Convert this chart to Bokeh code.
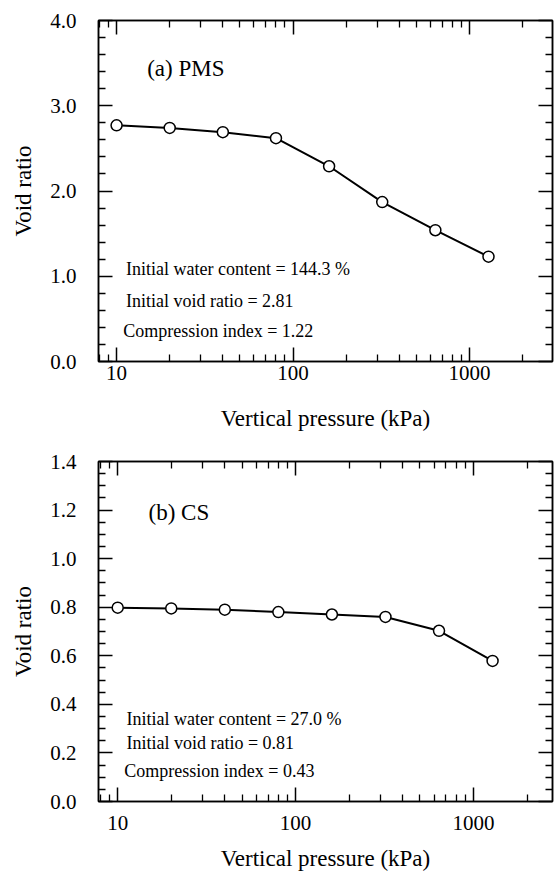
from bokeh.plotting import figure
from bokeh.models import FixedTicker, LogAxis, LinearAxis, NumeralTickFormatter, Label, Range1d
from bokeh.layouts import column
from bokeh.embed import file_html
from bokeh.resources import INLINE

# ---------------- data ----------------
pressure = [10, 20, 40, 80, 160, 320, 640, 1280]
void_pms = [2.77, 2.74, 2.69, 2.62, 2.29, 1.87, 1.54, 1.23]
void_cs = [0.798, 0.795, 0.790, 0.780, 0.770, 0.760, 0.703, 0.579]

x_major = [10, 100, 1000]
x_labels = ["10", "100", "1000"]
x_minor = [8, 9, 20, 30, 40, 50, 60, 70, 80, 90,
           200, 300, 400, 500, 600, 700, 800, 900, 2000]

y_major_pms = [0.0, 1.0, 2.0, 3.0, 4.0]
y_minor_pms = [0.2, 0.4, 0.6, 0.8, 1.2, 1.4, 1.6, 1.8, 2.2, 2.4, 2.6, 2.8,
               3.2, 3.4, 3.6, 3.8]
y_major_cs = [0.0, 0.2, 0.4, 0.6, 0.8, 1.0, 1.2, 1.4]
y_minor_cs = [0.05, 0.10, 0.15, 0.25, 0.30, 0.35, 0.45, 0.50, 0.55,
              0.65, 0.70, 0.75, 0.85, 0.90, 0.95, 1.05, 1.10, 1.15,
              1.25, 1.30, 1.35]

notes_pms = ["Initial water content = 144.3 %",
             "Initial void ratio = 2.81",
             "Compression index = 1.22"]
notes_cs = ["Initial water content = 27.0 %",
            "Initial void ratio = 0.81",
            "Compression index = 0.43"]

FONT = "Liberation Serif"


def make_panel(yvals, ymaj, ymin, xr, yr, width, height, bl, bt, bb,
               lab_standoff, axlab_standoff, title, title_pos, notes, note_pos):
    p = figure(width=width, height=height, x_axis_type="log",
               x_range=Range1d(*xr), y_range=Range1d(*yr),
               output_backend="svg", toolbar_location=None,
               min_border_left=bl, min_border_right=2,
               min_border_top=bt, min_border_bottom=bb)
    p.grid.visible = False
    p.outline_line_color = "black"
    p.outline_line_width = 1.5
    p.background_fill_color = "white"
    p.border_fill_color = "white"

    xt = FixedTicker(ticks=x_major, minor_ticks=x_minor)
    yt = FixedTicker(ticks=ymaj, minor_ticks=ymin)

    xa = p.xaxis[0]
    xa.ticker = xt
    xa.major_label_overrides = {float(v): s for v, s in zip(x_major, x_labels)}
    xa.axis_label = "Vertical pressure (kPa)"
    xa.major_label_standoff = lab_standoff
    xa.axis_label_standoff = axlab_standoff

    ya = p.yaxis[0]
    ya.ticker = yt
    ya.formatter = NumeralTickFormatter(format="0.0")
    ya.axis_label = "Void ratio"
    ya.major_label_standoff = 22
    ya.axis_label_standoff = 11

    top = LogAxis(ticker=xt)
    right = LinearAxis(ticker=yt)
    for ax in (top, right):
        ax.major_label_text_font_size = "1px"
        ax.major_label_text_alpha = 0
        ax.major_label_standoff = 0
    p.add_layout(top, "above")
    p.add_layout(right, "right")

    for ax in (xa, ya, top, right):
        ax.axis_line_width = 1.5
        ax.axis_line_color = "black"
        ax.major_tick_in = 14
        ax.major_tick_out = 0
        ax.minor_tick_in = 7
        ax.minor_tick_out = 0
        ax.major_tick_line_width = 1.5
        ax.minor_tick_line_width = 1.3
        ax.major_tick_line_color = "black"
        ax.minor_tick_line_color = "black"
        ax.axis_label_text_font = FONT
        ax.axis_label_text_font_style = "normal"
        ax.axis_label_text_font_size = "23px"
        ax.axis_label_text_color = "black"
        ax.major_label_text_font = FONT
        ax.major_label_text_color = "black"
    xa.major_label_text_font_size = "21px"
    ya.major_label_text_font_size = "21px"

    p.line(pressure, yvals, line_color="black", line_width=2)
    p.scatter(pressure, yvals, size=11, marker="circle", fill_color="white",
              line_color="black", line_width=1.5)

    p.add_layout(Label(x=title_pos[0], y=title_pos[1], text=title,
                       text_font=FONT, text_font_size="23px",
                       text_baseline="middle", text_color="black"))
    for t, (x, y) in zip(notes, note_pos):
        p.add_layout(Label(x=x, y=y, text=t, text_font=FONT,
                           text_font_size="18px", text_baseline="middle",
                           text_color="black"))
    return p


p1 = make_panel(void_pms, y_major_pms, y_minor_pms, (7.9, 2950), (0, 4.0),
                554, 433, 95, 20, 70, 4, 23, "(a) PMS", (14.9, 3.44),
                notes_pms, [(11.3, 1.085), (11.3, 0.71), (10.9, 0.36)])
p2 = make_panel(void_cs, y_major_cs, y_minor_cs, (7.8, 2780), (0, 1.4),
                554, 440, 98, 28, 68, 14, 13, "(b) CS", (14.9, 1.192),
                notes_cs, [(11.2, 0.341), (11.2, 0.240), (10.9, 0.126)])

layout = column(p1, p2)
open("out.html", "w").write(file_html(layout, INLINE))
